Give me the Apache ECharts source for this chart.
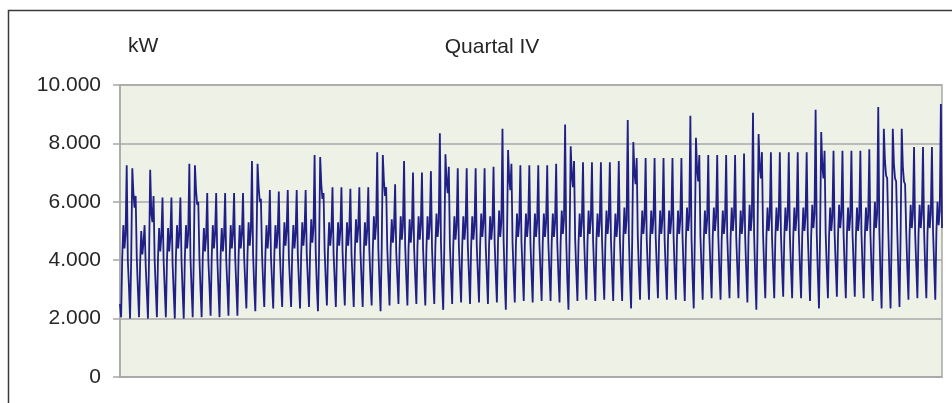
<!DOCTYPE html>
<html>
<head>
<meta charset="utf-8">
<script src="https://cdn.jsdelivr.net/npm/echarts@6/dist/echarts.min.js"></script>
<style>
html,body{margin:0;padding:0;background:#fff;}
#chart{width:952px;height:403px;}
</style>
</head>
<body>
<div id="chart"></div>
<script>
// Title / unit
var chartTitle = 'Quartal IV';
var unitLabel = 'kW';
// y-axis ticks
var yTicks = [0, 2000, 4000, 6000, 8000, 10000];
// time slots within each day (hours)
var daySlots = ['01', '04', '07', '10', '13', '16', '19', '22'];

// Per-day readings (92 days, Oct-Dec), kW
var midnight = [
  2500,3100,3000,2900,3000,3000,2900,
  2900,3000,3000,3100,3000,3100,3100,
  3200,3100,3200,3200,3200,3200,3200,
  3300,3100,3300,3300,3300,3300,3300,
  3300,3200,3400,3400,3400,3400,3400,
  3400,3200,3500,3500,3500,3500,3500,
  3500,3300,3500,3600,3500,3600,3600,
  3500,3300,3600,3600,3600,3600,3600,
  3600,3400,3600,3600,3700,3600,3600,
  3600,3400,3700,3700,3600,3700,3700,
  3600,3400,3700,3700,3700,3700,3700,
  3700,3500,3700,3800,3700,3800,3700,
  3700,3500,3500,3600,3700,3800,3700,
  3800
];
var nightLow = [
  2050,2000,2050,2000,2050,2050,2000,
  2000,2050,2050,2100,2050,2100,2100,
  2350,2250,2400,2350,2400,2400,2350,
  2400,2250,2450,2400,2450,2400,2400,
  2450,2250,2450,2500,2450,2500,2450,
  2500,2300,2500,2550,2500,2550,2500,
  2550,2300,2550,2600,2550,2600,2600,
  2550,2300,2600,2650,2600,2650,2600,
  2600,2350,2650,2650,2700,2650,2650,
  2600,2350,2650,2700,2650,2700,2700,
  2550,2300,2700,2700,2750,2700,2700,
  2600,2350,2700,2750,2700,2750,2700,
  2600,2350,2350,2400,2650,2700,2700,
  2650
];
var morning = [
  4100,4000,3900,4100,4100,4000,4100,
  4100,4200,4100,4100,4200,4100,4100,
  4200,4300,4200,4200,4200,4300,4200,
  4300,4300,4300,4300,4200,4300,4300,
  4300,4400,4400,4400,4400,4500,4400,
  4500,4500,4500,4500,4500,4500,4500,
  4600,4600,4500,4600,4600,4600,4600,
  4600,4700,4600,4600,4700,4600,4600,
  4700,4700,4700,4700,4700,4700,4700,
  4700,4800,4700,4800,4700,4800,4700,
  4800,4800,4800,4800,4800,4800,4800,
  4800,4900,4800,4800,4900,4800,4800,
  4900,5000,4900,4900,4900,4900,4900,
  5000
];
var noon = [
  5200,7150,5000,7100,5100,5100,5200,
  5200,7250,5100,5200,5100,5200,5200,
  5300,7300,5200,5200,5300,5200,5300,
  5400,7530,5300,5300,5300,5400,5300,
  5500,7600,5400,5500,5400,5500,5500,
  5600,7630,5500,5500,5500,5600,5500,
  5700,7770,5600,5600,5600,5600,5600,
  5700,7900,5600,5700,5600,5700,5600,
  5800,8050,5700,5700,5700,5700,5700,
  5800,8190,5700,5800,5700,5800,5700,
  5900,8320,5800,5800,5800,5800,5800,
  5900,8390,5800,5900,5800,5800,5800,
  6000,8500,8500,8500,5900,5900,5900,
  6000
];
var middayDip = [
  4400,6300,4200,5600,4300,4300,4400,
  4400,6400,4300,4400,4300,4400,4400,
  4500,6500,4400,4400,4500,4400,4500,
  4600,6600,4500,4500,4500,4600,4500,
  4700,6700,4600,4700,4600,4700,4700,
  4800,6700,4700,4700,4700,4800,4700,
  4800,6800,4800,4800,4800,4800,4800,
  4900,6900,4800,4900,4800,4900,4800,
  4900,7000,4900,4900,4900,4900,4900,
  5000,7100,4900,5000,4900,5000,4900,
  5000,7200,5000,5000,5000,5000,5000,
  5100,7200,5000,5100,5000,5000,5000,
  5100,7400,7300,7200,5100,5100,5100,
  5200
];
var afternoon = [
  4900,5800,4600,5300,4800,4800,4900,
  4900,5900,4800,4900,4800,4900,4900,
  5000,6000,4900,4900,5000,4900,5000,
  5100,6100,5000,5000,5000,5100,5000,
  5200,6200,5100,5200,5100,5200,5200,
  5300,6300,5200,5200,5200,5300,5200,
  5300,6400,5300,5300,5300,5300,5300,
  5400,6500,5300,5400,5300,5400,5300,
  5400,6600,5400,5400,5400,5400,5400,
  5500,6700,5400,5500,5400,5500,5400,
  5500,6800,5500,5500,5500,5500,5500,
  5600,6800,5500,5600,5500,5500,5500,
  5600,6900,6800,6700,5600,5600,5600,
  5700
];
var eveningPeak = [
  7250,6200,5200,6200,6150,6150,6150,
  7300,6000,6300,6300,6300,6300,6300,
  7400,6100,6400,6350,6400,6400,6400,
  7600,6300,6500,6500,6450,6500,6500,
  7700,6500,6600,7400,7000,7000,7050,
  8350,7200,7150,7150,7150,7150,7200,
  8500,7300,7250,7250,7250,7250,7300,
  8650,7400,7350,7350,7350,7350,7400,
  8800,7500,7500,7500,7500,7500,7500,
  8950,7600,7600,7600,7600,7600,7650,
  9050,7700,7700,7700,7700,7700,7700,
  9150,7750,7750,7750,7750,7750,7800,
  9250,6800,6700,6600,7880,7880,7880,
  9350
];
var lateEvening = [
  4000,4100,3800,4000,4000,3900,4000,
  4100,4100,4000,4100,4000,4100,4100,
  4200,4200,4100,4200,4100,4200,4200,
  4300,4300,4200,4300,4200,4300,4300,
  4400,4400,4300,4500,4400,4400,4400,
  4600,4500,4500,4500,4500,4500,4600,
  4700,4600,4600,4600,4600,4600,4600,
  4700,4700,4700,4700,4700,4700,4700,
  4800,4800,4700,4800,4700,4800,4800,
  4800,4800,4800,4800,4800,4800,4800,
  4900,4900,4800,4900,4800,4900,4900,
  4900,4900,4900,4900,4900,4900,4900,
  5000,5000,5000,5000,4900,5000,5000,
  5100
];

// Build the time-ordered series from the readings
var categories = [];
var values = [];
var slotArrays = [midnight, nightLow, morning, noon, middayDip, afternoon, eveningPeak, lateEvening];
for (var d = 0; d < nightLow.length; d++) {
  for (var s = 0; s < slotArrays.length; s++) {
    categories.push('T' + (d + 1) + ' ' + daySlots[s] + 'h');
    values.push(slotArrays[s][d]);
  }
}

function fmtDE(v) {
  return String(v).replace(/\B(?=(\d{3})+(?!\d))/g, '.');
}

var chart = echarts.init(document.getElementById('chart'), null, {renderer: 'canvas'});
var FONT = 'Liberation Sans, Arial, sans-serif';
chart.setOption({
  animation: false,
  backgroundColor: '#ffffff',
  title: {
    text: chartTitle,
    left: 487, top: 32,
    textAlign: 'center',
    textStyle: {fontFamily: FONT, fontSize: 21, fontWeight: 'normal', color: '#262626'}
  },
  graphic: [
    {type: 'rect', shape: {x: 8.5, y: 10.5, width: 960, height: 420},
     style: {fill: 'none', stroke: '#3a3a3a', lineWidth: 1.5}, silent: true},
    {type: 'text', left: 128, top: 36,
     style: {text: unitLabel, fontFamily: FONT, fontSize: 21, fill: '#262626'}}
  ],
  grid: {
    left: 120, right: 10, top: 85, bottom: 26,
    show: true, backgroundColor: '#eef1e6', borderColor: '#a8a8a8', borderWidth: 1.5
  },
  xAxis: {
    type: 'category',
    data: categories,
    boundaryGap: false,
    axisLine: {show: true, lineStyle: {color: '#a8a8a8', width: 1.5}},
    axisTick: {show: false},
    axisLabel: {show: false},
    splitLine: {show: false}
  },
  yAxis: {
    type: 'value',
    min: yTicks[0], max: yTicks[yTicks.length - 1], interval: 2000,
    axisLine: {show: true, lineStyle: {color: '#a8a8a8', width: 1.5}},
    axisTick: {show: true, inside: false, length: 7, lineStyle: {color: '#a8a8a8', width: 1.5}},
    axisLabel: {
      margin: 19, fontFamily: FONT, fontSize: 21, color: '#262626',
      formatter: function (v) { return fmtDE(v); }
    },
    splitLine: {show: true, lineStyle: {color: '#a8a8a8', width: 1.5}}
  },
  series: [{
    type: 'line',
    data: values,
    showSymbol: false,
    symbol: 'none',
    sampling: null,
    lineStyle: {color: '#1f1f86', width: 1.8},
    emphasis: {disabled: true}
  }]
});
</script>
</body>
</html>
